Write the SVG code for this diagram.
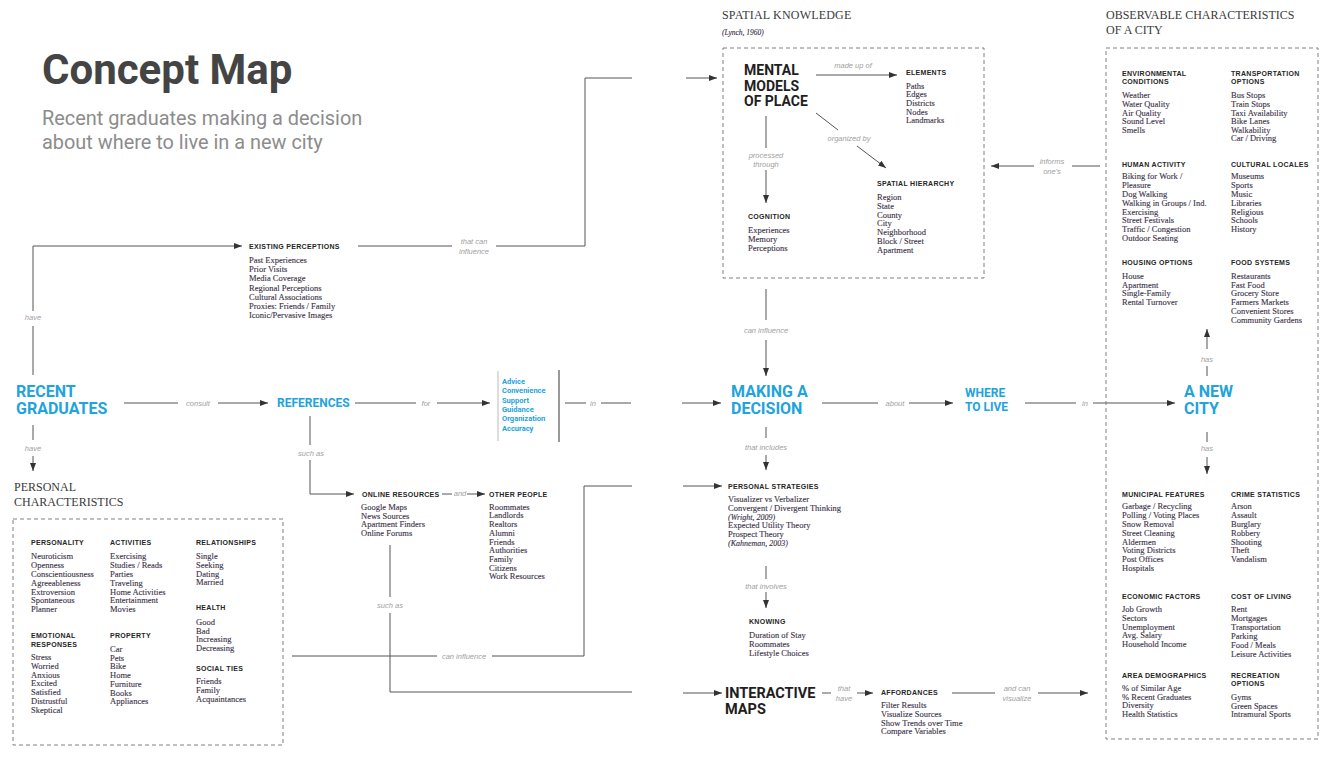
<svg xmlns="http://www.w3.org/2000/svg" width="1330" height="761" viewBox="0 0 1330 761">
<style>
.t{font-family:"Liberation Serif",serif;font-size:8.5px;fill:#3b3148;stroke:#3b3148;stroke-width:0.12px}
.ti{font-style:italic;font-size:8px}
.h{font-family:"Liberation Sans",Arial,sans-serif;font-size:7px;font-weight:bold;letter-spacing:0.3px;fill:#262626}
.lab{font-family:"Liberation Sans",Arial,sans-serif;font-size:7.5px;font-style:italic;fill:#a0a0a0;text-anchor:middle}
.big{font-family:Roboto,"Liberation Sans",sans-serif;font-weight:bold;font-size:16px;fill:#21a3dd}
.mid{font-family:Roboto,"Liberation Sans",sans-serif;font-weight:bold;font-size:12px;fill:#21a3dd}
.bl{font-family:Roboto,"Liberation Sans",sans-serif;font-weight:bold;font-size:7.5px;fill:#21a3dd}
.blk{font-family:Roboto,"Liberation Sans",sans-serif;font-weight:bold;fill:#1e1e1e}
.sec{font-family:"Liberation Serif",serif;font-size:12px;fill:#3a3a3a}
.c{fill:none;stroke:#555;stroke-width:1}
.ca{fill:none;stroke:#555;stroke-width:1;marker-end:url(#arr)}
.box{fill:none;stroke:#808080;stroke-width:1;stroke-dasharray:4 3}
</style>
<defs>
<marker id="arr" viewBox="0 0 8 6" refX="8" refY="3" markerWidth="8" markerHeight="6" markerUnits="userSpaceOnUse" orient="auto"><path d="M0,0 L8,3 L0,6 z" fill="#333"/></marker>
</defs>
<rect width="1330" height="761" fill="#fff"/>

<g id="title">
<text x="42" y="84" font-family="Roboto,'Liberation Sans',sans-serif" font-weight="bold" font-size="42" fill="#444">Concept Map</text>
<text x="42" y="125" font-family="Roboto,'Liberation Sans',sans-serif" font-size="19.9" fill="#8c8c8c">Recent graduates making a decision</text>
<text x="42" y="149" font-family="Roboto,'Liberation Sans',sans-serif" font-size="19.9" fill="#8c8c8c">about where to live in a new city</text>
</g>

<g id="connectors">
<path class="c" d="M33,375 V326"/>
<path class="ca" d="M33,311 V246 H242"/>
<path class="c" d="M358,246 H452"/>
<path class="c" d="M496,246 H585 V78 H632"/>
<path class="ca" d="M686,78 H717"/>
<path class="ca" d="M816,75 H897"/>
<path class="c" d="M816,113 L838,130"/>
<path class="ca" d="M857,146 L886,168"/>
<path class="c" d="M766,116 V148"/>
<path class="ca" d="M766,170 V203"/>
<path class="c" d="M1100,166 H1072"/>
<path class="ca" d="M1034,166 H991"/>
<path class="c" d="M766,289 V320"/>
<path class="ca" d="M766,340 V376"/>
<path class="c" d="M124,403 H178"/>
<path class="ca" d="M218,403 H268"/>
<path class="c" d="M355,403 H416"/>
<path class="ca" d="M437,403 H490"/>
<path d="M498,371 V441" stroke="#bbb" stroke-width="1" fill="none"/>
<path d="M559,370 V442" stroke="#555" stroke-width="1.2" fill="none"/>
<path class="c" d="M565,403 H586"/>
<path class="c" d="M601,403 H631"/>
<path class="ca" d="M682,403 H721"/>
<path class="c" d="M822,403 H878"/>
<path class="ca" d="M909,403 H953"/>
<path class="c" d="M1025,403 H1076"/>
<path class="ca" d="M1093,403 H1175"/>
<path class="c" d="M1207,376 V366"/>
<path class="ca" d="M1207,349 V329"/>
<path class="c" d="M1207,432 V442"/>
<path class="ca" d="M1207,457 V474"/>
<path class="c" d="M33,425 V440"/>
<path class="ca" d="M33,456 V471"/>
<path class="c" d="M310,416 V445"/>
<path class="ca" d="M310,460 V494 H354"/>
<path class="c" d="M442,494 H452"/>
<path class="ca" d="M467,494 H485"/>
<path class="c" d="M766,427 V438"/>
<path class="ca" d="M766,455 V470"/>
<path class="c" d="M292,656 H437"/>
<path class="c" d="M492,656 H584 V486 H632"/>
<path class="ca" d="M683,486 H722"/>
<path class="c" d="M390,545 V597"/>
<path class="c" d="M390,613 V692 H632"/>
<path class="ca" d="M683,693 H722"/>
<path class="c" d="M766,566 V579"/>
<path class="ca" d="M766,592 V608"/>
<path class="c" d="M822,693 H831"/>
<path class="ca" d="M857,693 H873"/>
<path class="c" d="M952,693 H995"/>
<path class="ca" d="M1038,693 H1088"/>
<text class="lab" x="33" y="319.5">have</text>
<text class="lab" x="33" y="450.5">have</text>
<text class="lab" x="474" y="243.5">that can</text>
<text class="lab" x="474" y="253.5">influence</text>
<text class="lab" x="853" y="68">made up of</text>
<text class="lab" x="849" y="141">organized by</text>
<text class="lab" x="766" y="157.5">processed</text>
<text class="lab" x="766" y="166.5">through</text>
<text class="lab" x="1052" y="163.5">informs</text>
<text class="lab" x="1052" y="173.5">one's</text>
<text class="lab" x="766" y="333">can influence</text>
<text class="lab" x="198" y="405.5">consult</text>
<text class="lab" x="426" y="405.5">for</text>
<text class="lab" x="593" y="405.5">in</text>
<text class="lab" x="895" y="405.5">about</text>
<text class="lab" x="1085" y="405.5">in</text>
<text class="lab" x="1207" y="361.5">has</text>
<text class="lab" x="1207" y="451">has</text>
<text class="lab" x="311" y="455.5">such as</text>
<text class="lab" x="460" y="495.5">and</text>
<text class="lab" x="766" y="449.5">that includes</text>
<text class="lab" x="464" y="658.5">can influence</text>
<text class="lab" x="390" y="607.5">such as</text>
<text class="lab" x="766" y="589">that involves</text>
<text class="lab" x="844" y="690.5">that</text>
<text class="lab" x="844" y="700.5">have</text>
<text class="lab" x="1017" y="690.5">and can</text>
<text class="lab" x="1017" y="700.5">visualize</text>
</g>

<g id="recent-graduates">
<text class="big" x="16" y="397">RECENT</text>
<text class="big" x="16" y="414">GRADUATES</text>
</g>

<g id="existing-perceptions">
<text class="h" x="249" y="249">EXISTING PERCEPTIONS</text>
<text class="t" x="249" y="263"><tspan x="249" dy="0">Past Experiences</tspan><tspan x="249" dy="9.2">Prior Visits</tspan><tspan x="249" dy="9.2">Media Coverage</tspan><tspan x="249" dy="9.2">Regional Perceptions</tspan><tspan x="249" dy="9.2">Cultural Associations</tspan><tspan x="249" dy="9.2">Proxies: Friends / Family</tspan><tspan x="249" dy="9.2">Iconic/Pervasive Images</tspan></text>
</g>

<g id="spatial-knowledge">
<text class="sec" x="722" y="19" style="letter-spacing:0.2px">SPATIAL KNOWLEDGE</text>
<text class="t ti" x="722" y="35" style="font-size:7.5px">(Lynch, 1960)</text>
<rect class="box" x="723" y="48" width="261" height="230"/>
<text class="blk" font-size="14" x="744" y="75">MENTAL</text>
<text class="blk" font-size="14" x="744" y="90.5">MODELS</text>
<text class="blk" font-size="14" x="744" y="106">OF PLACE</text>
</g>

<g id="elements">
<text class="h" x="906" y="75">ELEMENTS</text>
<text class="t" x="906" y="88.7"><tspan x="906" dy="0">Paths</tspan><tspan x="906" dy="8.65">Edges</tspan><tspan x="906" dy="8.65">Districts</tspan><tspan x="906" dy="8.65">Nodes</tspan><tspan x="906" dy="8.65">Landmarks</tspan></text>
</g>

<g id="spatial-hierarchy">
<text class="h" x="877" y="186">SPATIAL HIERARCHY</text>
<text class="t" x="877" y="200"><tspan x="877" dy="0">Region</tspan><tspan x="877" dy="8.8">State</tspan><tspan x="877" dy="8.8">County</tspan><tspan x="877" dy="8.8">City</tspan><tspan x="877" dy="8.8">Neighborhood</tspan><tspan x="877" dy="8.8">Block / Street</tspan><tspan x="877" dy="8.8">Apartment</tspan></text>
</g>

<g id="cognition">
<text class="h" x="748" y="218.7">COGNITION</text>
<text class="t" x="748" y="232.7"><tspan x="748" dy="0">Experiences</tspan><tspan x="748" dy="9">Memory</tspan><tspan x="748" dy="9">Perceptions</tspan></text>
</g>

<g id="references">
<text class="mid" x="277" y="407">REFERENCES</text>
</g>

<g id="qualities">
<text class="bl" x="502" y="384"><tspan x="502" dy="0">Advice</tspan><tspan x="502" dy="9.3">Convenience</tspan><tspan x="502" dy="9.3">Support</tspan><tspan x="502" dy="9.3">Guidance</tspan><tspan x="502" dy="9.3">Organization</tspan><tspan x="502" dy="9.3">Accuracy</tspan></text>
</g>

<g id="making-a-decision">
<text class="big" x="731" y="397">MAKING A</text>
<text class="big" x="731" y="414">DECISION</text>
</g>

<g id="where-to-live">
<text class="mid" x="965" y="397">WHERE</text>
<text class="mid" x="965" y="410.5">TO LIVE</text>
</g>

<g id="a-new-city">
<text class="big" x="1184" y="397">A NEW</text>
<text class="big" x="1184" y="414">CITY</text>
</g>

<g id="observable-characteristics">
<text class="sec" x="1106" y="19">OBSERVABLE CHARACTERISTICS</text>
<text class="sec" x="1106" y="34">OF A CITY</text>
<rect class="box" x="1106" y="48" width="212" height="691"/>
<text class="h" x="1122" y="76">ENVIRONMENTAL</text>
<text class="h" x="1122" y="84">CONDITIONS</text>
<text class="t" x="1122" y="98.3"><tspan x="1122" dy="0">Weather</tspan><tspan x="1122" dy="8.6">Water Quality</tspan><tspan x="1122" dy="8.6">Air Quality</tspan><tspan x="1122" dy="8.6">Sound Level</tspan><tspan x="1122" dy="8.6">Smells</tspan></text>
<text class="h" x="1231" y="76">TRANSPORTATION</text>
<text class="h" x="1231" y="84">OPTIONS</text>
<text class="t" x="1231" y="98.3"><tspan x="1231" dy="0">Bus Stops</tspan><tspan x="1231" dy="8.6">Train Stops</tspan><tspan x="1231" dy="8.6">Taxi Availability</tspan><tspan x="1231" dy="8.6">Bike Lanes</tspan><tspan x="1231" dy="8.6">Walkability</tspan><tspan x="1231" dy="8.6">Car / Driving</tspan></text>
<text class="h" x="1122" y="166.7">HUMAN ACTIVITY</text>
<text class="t" x="1122" y="179.3"><tspan x="1122" dy="0">Biking for Work /</tspan><tspan x="1122" dy="8.8">Pleasure</tspan><tspan x="1122" dy="8.8">Dog Walking</tspan><tspan x="1122" dy="8.8">Walking in Groups / Ind.</tspan><tspan x="1122" dy="8.8">Exercising</tspan><tspan x="1122" dy="8.8">Street Festivals</tspan><tspan x="1122" dy="8.8">Traffic / Congestion</tspan><tspan x="1122" dy="8.8">Outdoor Seating</tspan></text>
<text class="h" x="1231" y="166.7">CULTURAL LOCALES</text>
<text class="t" x="1231" y="179.3"><tspan x="1231" dy="0">Museums</tspan><tspan x="1231" dy="8.8">Sports</tspan><tspan x="1231" dy="8.8">Music</tspan><tspan x="1231" dy="8.8">Libraries</tspan><tspan x="1231" dy="8.8">Religious</tspan><tspan x="1231" dy="8.8">Schools</tspan><tspan x="1231" dy="8.8">History</tspan></text>
<text class="h" x="1122" y="265.3">HOUSING OPTIONS</text>
<text class="t" x="1122" y="278.7"><tspan x="1122" dy="0">House</tspan><tspan x="1122" dy="8.8">Apartment</tspan><tspan x="1122" dy="8.8">Single-Family</tspan><tspan x="1122" dy="8.8">Rental Turnover</tspan></text>
<text class="h" x="1231" y="265">FOOD SYSTEMS</text>
<text class="t" x="1231" y="278.7"><tspan x="1231" dy="0">Restaurants</tspan><tspan x="1231" dy="8.8">Fast Food</tspan><tspan x="1231" dy="8.8">Grocery Store</tspan><tspan x="1231" dy="8.8">Farmers Markets</tspan><tspan x="1231" dy="8.8">Convenient Stores</tspan><tspan x="1231" dy="8.8">Community Gardens</tspan></text>
<text class="h" x="1122" y="496.7">MUNICIPAL FEATURES</text>
<text class="t" x="1122" y="509.3"><tspan x="1122" dy="0">Garbage / Recycling</tspan><tspan x="1122" dy="8.8">Polling / Voting Places</tspan><tspan x="1122" dy="8.8">Snow Removal</tspan><tspan x="1122" dy="8.8">Street Cleaning</tspan><tspan x="1122" dy="8.8">Aldermen</tspan><tspan x="1122" dy="8.8">Voting Districts</tspan><tspan x="1122" dy="8.8">Post Offices</tspan><tspan x="1122" dy="8.8">Hospitals</tspan></text>
<text class="h" x="1231" y="496.7">CRIME STATISTICS</text>
<text class="t" x="1231" y="509.3"><tspan x="1231" dy="0">Arson</tspan><tspan x="1231" dy="8.8">Assault</tspan><tspan x="1231" dy="8.8">Burglary</tspan><tspan x="1231" dy="8.8">Robbery</tspan><tspan x="1231" dy="8.8">Shooting</tspan><tspan x="1231" dy="8.8">Theft</tspan><tspan x="1231" dy="8.8">Vandalism</tspan></text>
<text class="h" x="1122" y="598.7">ECONOMIC FACTORS</text>
<text class="t" x="1122" y="612"><tspan x="1122" dy="0">Job Growth</tspan><tspan x="1122" dy="8.8">Sectors</tspan><tspan x="1122" dy="8.8">Unemployment</tspan><tspan x="1122" dy="8.8">Avg. Salary</tspan><tspan x="1122" dy="8.8">Household Income</tspan></text>
<text class="h" x="1231" y="598.7">COST OF LIVING</text>
<text class="t" x="1231" y="612"><tspan x="1231" dy="0">Rent</tspan><tspan x="1231" dy="8.9">Mortgages</tspan><tspan x="1231" dy="8.9">Transportation</tspan><tspan x="1231" dy="8.9">Parking</tspan><tspan x="1231" dy="8.9">Food / Meals</tspan><tspan x="1231" dy="8.9">Leisure Activities</tspan></text>
<text class="h" x="1122" y="677.7">AREA DEMOGRAPHICS</text>
<text class="t" x="1122" y="691"><tspan x="1122" dy="0">% of Similar Age</tspan><tspan x="1122" dy="8.7">% Recent Graduates</tspan><tspan x="1122" dy="8.7">Diversity</tspan><tspan x="1122" dy="8.7">Health Statistics</tspan></text>
<text class="h" x="1231" y="677.7">RECREATION</text>
<text class="h" x="1231" y="686">OPTIONS</text>
<text class="t" x="1231" y="700"><tspan x="1231" dy="0">Gyms</tspan><tspan x="1231" dy="8.5">Green Spaces</tspan><tspan x="1231" dy="8.5">Intramural Sports</tspan></text>
</g>

<g id="personal-characteristics">
<text class="sec" x="14" y="491">PERSONAL</text>
<text class="sec" x="14" y="506">CHARACTERISTICS</text>
<rect class="box" x="13" y="519" width="270" height="226"/>
<text class="h" x="31" y="544.7">PERSONALITY</text>
<text class="t" x="31" y="559.3"><tspan x="31" dy="0">Neuroticism</tspan><tspan x="31" dy="8.8">Openness</tspan><tspan x="31" dy="8.8">Conscientiousness</tspan><tspan x="31" dy="8.8">Agreeableness</tspan><tspan x="31" dy="8.8">Extroversion</tspan><tspan x="31" dy="8.8">Spontaneous</tspan><tspan x="31" dy="8.8">Planner</tspan></text>
<text class="h" x="31" y="637.7">EMOTIONAL</text>
<text class="h" x="31" y="646.7">RESPONSES</text>
<text class="t" x="31" y="660"><tspan x="31" dy="0">Stress</tspan><tspan x="31" dy="8.8">Worried</tspan><tspan x="31" dy="8.8">Anxious</tspan><tspan x="31" dy="8.8">Excited</tspan><tspan x="31" dy="8.8">Satisfied</tspan><tspan x="31" dy="8.8">Distrustful</tspan><tspan x="31" dy="8.8">Skeptical</tspan></text>
<text class="h" x="110" y="544.7">ACTIVITIES</text>
<text class="t" x="110" y="559.3"><tspan x="110" dy="0">Exercising</tspan><tspan x="110" dy="8.8">Studies / Reads</tspan><tspan x="110" dy="8.8">Parties</tspan><tspan x="110" dy="8.8">Traveling</tspan><tspan x="110" dy="8.8">Home Activities</tspan><tspan x="110" dy="8.8">Entertainment</tspan><tspan x="110" dy="8.8">Movies</tspan></text>
<text class="h" x="110" y="637.7">PROPERTY</text>
<text class="t" x="110" y="652"><tspan x="110" dy="0">Car</tspan><tspan x="110" dy="8.7">Pets</tspan><tspan x="110" dy="8.7">Bike</tspan><tspan x="110" dy="8.7">Home</tspan><tspan x="110" dy="8.7">Furniture</tspan><tspan x="110" dy="8.7">Books</tspan><tspan x="110" dy="8.7">Appliances</tspan></text>
<text class="h" x="196" y="544.7">RELATIONSHIPS</text>
<text class="t" x="196" y="559.3"><tspan x="196" dy="0">Single</tspan><tspan x="196" dy="8.6">Seeking</tspan><tspan x="196" dy="8.6">Dating</tspan><tspan x="196" dy="8.6">Married</tspan></text>
<text class="h" x="196" y="610.3">HEALTH</text>
<text class="t" x="196" y="624.7"><tspan x="196" dy="0">Good</tspan><tspan x="196" dy="8.8">Bad</tspan><tspan x="196" dy="8.8">Increasing</tspan><tspan x="196" dy="8.8">Decreasing</tspan></text>
<text class="h" x="196" y="671.3">SOCIAL TIES</text>
<text class="t" x="196" y="683.7"><tspan x="196" dy="0">Friends</tspan><tspan x="196" dy="9">Family</tspan><tspan x="196" dy="9">Acquaintances</tspan></text>
</g>

<g id="online-resources">
<text class="h" x="362" y="496.7">ONLINE RESOURCES</text>
<text class="t" x="361" y="509.7"><tspan x="361" dy="0">Google Maps</tspan><tspan x="361" dy="8.8">News Sources</tspan><tspan x="361" dy="8.8">Apartment Finders</tspan><tspan x="361" dy="8.8">Online Forums</tspan></text>
</g>

<g id="other-people">
<text class="h" x="489" y="496.7">OTHER PEOPLE</text>
<text class="t" x="489" y="509.7"><tspan x="489" dy="0">Roommates</tspan><tspan x="489" dy="8.7">Landlords</tspan><tspan x="489" dy="8.7">Realtors</tspan><tspan x="489" dy="8.7">Alumni</tspan><tspan x="489" dy="8.7">Friends</tspan><tspan x="489" dy="8.7">Authorities</tspan><tspan x="489" dy="8.7">Family</tspan><tspan x="489" dy="8.7">Citizens</tspan><tspan x="489" dy="8.7">Work Resources</tspan></text>
</g>

<g id="personal-strategies">
<text class="h" x="728" y="489">PERSONAL STRATEGIES</text>
<text class="t" x="728" y="502"><tspan x="728" dy="0">Visualizer vs Verbalizer</tspan><tspan x="728" dy="8.8">Convergent / Divergent Thinking</tspan><tspan x="728" dy="8.8" class="ti">(Wright, 2009)</tspan><tspan x="728" dy="8.8">Expected Utility Theory</tspan><tspan x="728" dy="8.8">Prospect Theory</tspan><tspan x="728" dy="8.8" class="ti">(Kahneman, 2003)</tspan></text>
</g>

<g id="knowing">
<text class="h" x="749" y="624.3">KNOWING</text>
<text class="t" x="749" y="637.7"><tspan x="749" dy="0">Duration of Stay</tspan><tspan x="749" dy="9.1">Roommates</tspan><tspan x="749" dy="9.1">Lifestyle Choices</tspan></text>
</g>

<g id="interactive-maps">
<text class="blk" font-size="14.5" x="725" y="698">INTERACTIVE</text>
<text class="blk" font-size="14.5" x="725" y="713.5">MAPS</text>
</g>

<g id="affordances">
<text class="h" x="881" y="695">AFFORDANCES</text>
<text class="t" x="881" y="708.3"><tspan x="881" dy="0">Filter Results</tspan><tspan x="881" dy="8.7">Visualize Sources</tspan><tspan x="881" dy="8.7">Show Trends over Time</tspan><tspan x="881" dy="8.7">Compare Variables</tspan></text>
</g>
</svg>
